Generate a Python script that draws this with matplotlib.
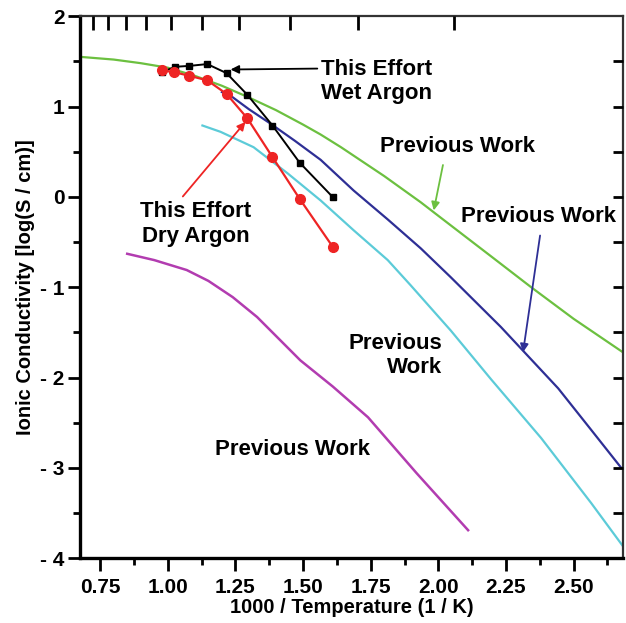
import matplotlib
matplotlib.use("Agg")
import matplotlib.pyplot as plt
import numpy as np
from matplotlib.ticker import MultipleLocator, FixedLocator

plt.rcParams['font.family'] = ['Liberation Sans', 'DejaVu Sans']
plt.rcParams['font.weight'] = 'bold'

# This effort, wet argon (black squares)
wet_x = [0.977, 1.028, 1.080, 1.146, 1.217, 1.294, 1.387, 1.487, 1.609]
wet_y = [1.38, 1.44, 1.45, 1.47, 1.37, 1.13, 0.79, 0.38, 0.00]

# This effort, dry argon (red circles)
dry_x = [0.977, 1.024, 1.080, 1.146, 1.217, 1.294, 1.387, 1.487, 1.609]
dry_y = [1.40, 1.38, 1.34, 1.29, 1.14, 0.87, 0.44, -0.02, -0.55]

# Previous work curves
green_x = [0.676, 0.80, 0.90, 1.00, 1.10, 1.20, 1.30, 1.40, 1.50, 1.565, 1.64, 1.80, 1.935, 2.00, 2.20, 2.343, 2.50, 2.687]
green_y = [1.55, 1.52, 1.48, 1.43, 1.34, 1.23, 1.10, 0.96, 0.80, 0.69, 0.55, 0.23, -0.06, -0.21, -0.67, -1.00, -1.35, -1.73]

blue_x = [1.20, 1.232, 1.30, 1.38, 1.47, 1.565, 1.687, 1.813, 1.935, 2.046, 2.231, 2.443, 2.565, 2.676]
blue_y = [1.16, 1.12, 0.97, 0.81, 0.62, 0.41, 0.07, -0.25, -0.57, -0.89, -1.44, -2.12, -2.58, -3.00]

cyan_x = [1.128, 1.195, 1.317, 1.443, 1.565, 1.687, 1.813, 1.898, 2.046, 2.195, 2.38, 2.565, 2.683]
cyan_y = [0.79, 0.72, 0.55, 0.26, -0.04, -0.37, -0.70, -0.98, -1.48, -2.02, -2.67, -3.39, -3.87]

mag_x = [0.85, 0.95, 1.07, 1.15, 1.24, 1.33, 1.42, 1.49, 1.61, 1.74, 1.92, 2.11]
mag_y = [-0.63, -0.70, -0.81, -0.93, -1.11, -1.33, -1.60, -1.81, -2.10, -2.44, -3.06, -3.69]

# tick values
x_major = [0.75, 1.00, 1.25, 1.50, 1.75, 2.00, 2.25, 2.50]
y_major = [2, 1, 0, -1, -2, -3, -4]
y_labels = ['2', '1', '0', '- 1', '- 2', '- 3', '- 4']
top_ticks = [0.724, 0.780, 0.846, 0.921, 1.013, 1.128, 1.265, 1.451, 1.702, 2.058]
right_ticks = [-3.5, -3.0, -2.5, -2.0, -1.5, -1.0, -0.5, 0.0, 0.5, 1.0, 1.5]

fig = plt.figure(figsize=(6.26, 6.23), dpi=100)
ax = fig.add_axes([0.128, 0.104, 0.867, 0.870])

ax.plot(green_x, green_y, '-', color='#6cc040', lw=1.6)
ax.plot(blue_x, blue_y, '-', color='#2e2f95', lw=1.6)
ax.plot(cyan_x, cyan_y, '-', color='#5ccbd8', lw=1.6)
ax.plot(mag_x, mag_y, '-', color='#b23cb0', lw=1.8)
ax.plot(wet_x, wet_y, 's-', color='black', ms=5, lw=1.4)
ax.plot(dry_x, dry_y, 'o-', color='#ee2424', ms=7, lw=1.6)

ax.set_xlim(0.676, 2.682)
ax.set_ylim(-4, 2)

ax.xaxis.set_major_locator(FixedLocator(x_major))
ax.xaxis.set_minor_locator(MultipleLocator(0.125))
ax.set_xticklabels(['%.2f' % v for v in x_major])
ax.yaxis.set_major_locator(FixedLocator(y_major))
ax.set_yticklabels(y_labels)
ax.yaxis.set_minor_locator(MultipleLocator(0.5))

ax.tick_params(which='major', direction='out', length=9, width=2, labelsize=15)
ax.tick_params(axis='x', which='major', pad=5)
ax.tick_params(axis='y', which='major', pad=2)
ax.tick_params(which='minor', direction='out', length=5, width=2)
ax.tick_params(top=False, right=False, which='both')

for s in ['left', 'bottom']:
    ax.spines[s].set_linewidth(2.4)
for s in ['top', 'right']:
    ax.spines[s].set_linewidth(1.6)
    ax.spines[s].set_color('#333333')

# top axis: temperature ticks (inward, no labels)
axt = ax.twiny()
axt.set_xlim(ax.get_xlim())
axt.xaxis.set_major_locator(FixedLocator(top_ticks))
axt.xaxis.set_minor_locator(FixedLocator([]))
axt.tick_params(axis='x', direction='in', length=10, width=2, colors='black',
                labeltop=False, top=True, bottom=False)

# right axis: inward ticks, no labels
axr = ax.twinx()
axr.set_ylim(ax.get_ylim())
axr.yaxis.set_major_locator(FixedLocator(right_ticks))
axr.yaxis.set_minor_locator(FixedLocator([]))
axr.tick_params(axis='y', direction='in', length=7, width=2, colors='black',
                labelright=False, right=True, left=False)
for a in (axt, axr):
    for s in a.spines.values():
        s.set_visible(False)

ax.set_xlabel('1000 / Temperature (1 / K)', fontsize=14.5, fontweight='bold', labelpad=1)
ax.set_ylabel('Ionic Conductivity [log(S / cm)]', fontsize=14.5, fontweight='bold', labelpad=4)

fs = 16
ax.annotate('This Effort\nWet Argon', xy=(1.232, 1.41), xytext=(1.565, 1.28),
            ha='left', va='center', fontsize=fs, fontweight='bold',
            arrowprops=dict(arrowstyle='-|>', color='black', lw=1.3,
                            shrinkA=0, shrinkB=0, mutation_scale=12,
                            relpos=(-0.03, 0.78)))
ax.annotate('This Effort\nDry Argon', xy=(1.287, 0.83), xytext=(1.102, -0.30),
            ha='center', va='center', fontsize=fs, fontweight='bold',
            arrowprops=dict(arrowstyle='-|>', color='#ee2424', lw=1.3,
                            shrinkA=2, shrinkB=0, mutation_scale=12,
                            relpos=(0.35, 1.0)))
ax.annotate('Previous Work', xy=(1.983, -0.15), xytext=(2.069, 0.56),
            ha='center', va='center', fontsize=fs, fontweight='bold',
            arrowprops=dict(arrowstyle='-|>', color='#6cc040', lw=1.3,
                            shrinkA=4, shrinkB=0, mutation_scale=12,
                            relpos=(0.42, 0.0)))
ax.annotate('Previous Work', xy=(2.313, -1.72), xytext=(2.369, -0.22),
            ha='center', va='center', fontsize=fs, fontweight='bold',
            arrowprops=dict(arrowstyle='-|>', color='#2e2f95', lw=1.3,
                            shrinkA=4, shrinkB=0, mutation_scale=12,
                            relpos=(0.52, 0.0)))
ax.text(2.013, -1.76, 'Previous\nWork', ha='right', va='center',
        multialignment='right', fontsize=fs, fontweight='bold')
ax.text(1.461, -2.80, 'Previous Work', ha='center', va='center',
        fontsize=fs, fontweight='bold')

fig.savefig('out.png', dpi=100)
